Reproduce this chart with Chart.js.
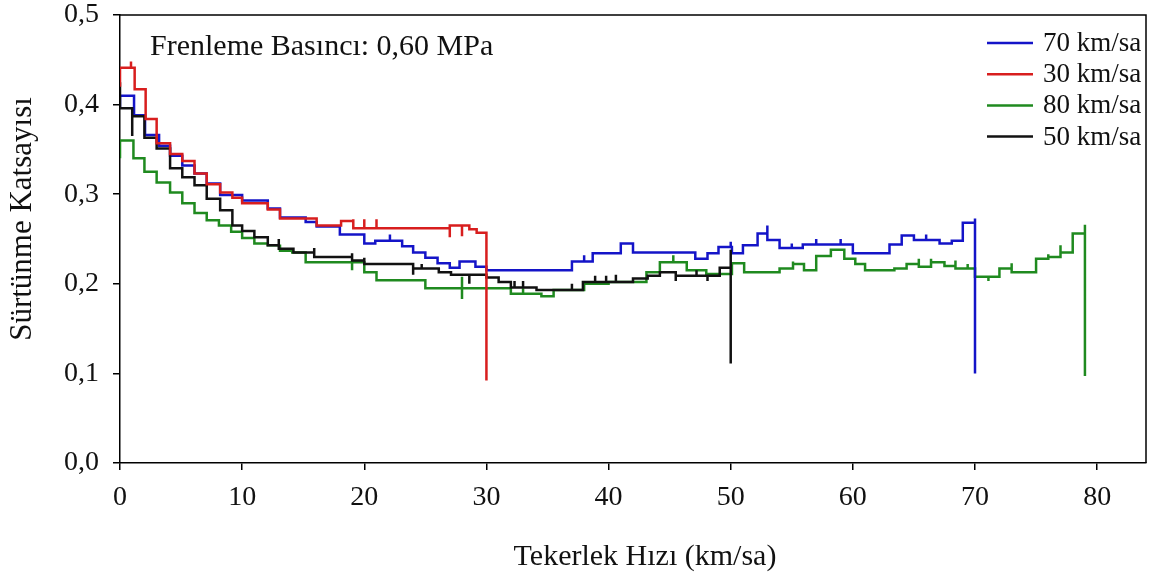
<!DOCTYPE html>
<html>
<head>
<meta charset="utf-8">
<script src="https://cdn.jsdelivr.net/npm/chart.js@4.4.1/dist/chart.umd.min.js"></script>
<style>
  html, body { margin: 0; padding: 0; background: #fff; }
  #wrap { width: 1166px; height: 580px; }
</style>
</head>
<body>
<div id="wrap"><canvas id="c" width="1166" height="580"></canvas></div>
<script>
// Friction coefficient vs. wheel speed, braking pressure 0.60 MPa.
// Each run is a stepped trace; repeated x values mark short vertical ticks.

const seriesLabels = ['70 km/sa', '30 km/sa', '80 km/sa', '50 km/sa'];
const seriesColors = ['#1414c8', '#d81e1e', '#1f8a1f', '#111111'];

const speed70 = [0, 0, 1.15, 2.05, 3.2, 4.1, 5.1, 6.1, 7.1, 8.2, 10, 12.1, 13.1, 15.2, 16.1, 18, 20, 20.9, 22.1, 22.1, 23.1, 24, 25, 26, 27, 27.8, 29.1, 30, 37, 38, 38, 38.7, 41, 42, 47.1, 48.1, 49, 50, 50, 50.1, 51, 52.2, 53, 53, 54, 55, 55, 55.9, 57, 57, 59, 59, 60, 63, 64, 65, 66, 66, 67.1, 68.1, 69, 70, 70];
const mu70    = [0.395, 0.41, 0.388, 0.366, 0.354, 0.343, 0.332, 0.323, 0.312, 0.299, 0.293, 0.284, 0.274, 0.269, 0.264, 0.255, 0.245, 0.248, 0.255, 0.248, 0.242, 0.235, 0.229, 0.223, 0.218, 0.225, 0.219, 0.215, 0.225, 0.232, 0.225, 0.234, 0.245, 0.235, 0.228, 0.234, 0.241, 0.247, 0.241, 0.234, 0.243, 0.256, 0.265, 0.249, 0.24, 0.245, 0.24, 0.244, 0.25, 0.244, 0.25, 0.244, 0.234, 0.244, 0.254, 0.249, 0.255, 0.249, 0.245, 0.248, 0.268, 0.273, 0.10];

const speed30 = [0, 0, 0.9, 0.9, 1.2, 2.1, 3.0, 4.1, 5.1, 6.1, 7.1, 8.2, 9.2, 10, 12.1, 13.1, 16.1, 18.1, 19.1, 19.1, 20, 20, 21, 21, 27, 27, 28, 28, 28.6, 29.2, 30];
const mu30    = [0.42, 0.441, 0.448, 0.441, 0.417, 0.384, 0.357, 0.345, 0.337, 0.323, 0.311, 0.302, 0.296, 0.29, 0.283, 0.273, 0.265, 0.27, 0.272, 0.262, 0.272, 0.262, 0.272, 0.262, 0.252, 0.265, 0.253, 0.265, 0.261, 0.257, 0.092];

const speed80 = [0, 0, 1.1, 2.0, 3.0, 4.1, 5.1, 6.1, 7.1, 8.1, 9.1, 10, 11, 12.1, 13.1, 13.1, 14.1, 15.2, 19, 19, 20, 21, 25, 28, 28, 28, 32, 33, 33, 34.5, 35.5, 38, 40, 43.1, 44.2, 45.3, 45.3, 46.4, 48, 50.1, 51.1, 54, 55.1, 55.1, 56, 57, 58.2, 59.3, 60.2, 61, 63.4, 64.4, 65.4, 65.4, 66.4, 66.4, 67.5, 68.4, 68.4, 69.4, 69.4, 70, 71.1, 71.1, 72, 73, 73, 75, 76, 76, 77, 77, 78, 79, 79];
const mu80    = [0.34, 0.36, 0.34, 0.325, 0.313, 0.302, 0.29, 0.279, 0.271, 0.265, 0.258, 0.251, 0.245, 0.243, 0.244, 0.237, 0.235, 0.224, 0.215, 0.224, 0.213, 0.204, 0.195, 0.183, 0.208, 0.195, 0.189, 0.195, 0.189, 0.186, 0.193, 0.2, 0.202, 0.213, 0.224, 0.232, 0.224, 0.215, 0.211, 0.223, 0.213, 0.217, 0.225, 0.222, 0.215, 0.231, 0.238, 0.228, 0.222, 0.215, 0.217, 0.222, 0.228, 0.219, 0.228, 0.224, 0.22, 0.226, 0.217, 0.222, 0.217, 0.208, 0.203, 0.208, 0.217, 0.223, 0.213, 0.228, 0.233, 0.23, 0.243, 0.235, 0.256, 0.266, 0.097];

const speed50 = [0, 0, 1, 1, 2, 3, 4.1, 5.1, 6.1, 7.1, 8.2, 9.2, 10, 11, 12.1, 13, 13, 14.2, 15.9, 15.9, 19, 19, 20, 20, 24, 24, 24.7, 24.7, 26.1, 27.1, 28.6, 28.6, 30, 31, 32, 32.3, 32.3, 33, 33, 34.1, 37, 37, 37.9, 38.9, 38.9, 39.8, 39.8, 40.6, 40.6, 42, 43.2, 44.2, 45.5, 45.5, 47.2, 47.2, 48.1, 48.1, 49.1, 50, 50];
const mu50    = [0.425, 0.396, 0.365, 0.387, 0.363, 0.351, 0.329, 0.319, 0.31, 0.295, 0.282, 0.265, 0.259, 0.252, 0.243, 0.25, 0.239, 0.235, 0.24, 0.23, 0.234, 0.226, 0.229, 0.222, 0.21, 0.217, 0.222, 0.217, 0.213, 0.21, 0.2, 0.21, 0.207, 0.202, 0.196, 0.203, 0.196, 0.203, 0.196, 0.193, 0.2, 0.193, 0.202, 0.209, 0.202, 0.209, 0.202, 0.21, 0.202, 0.206, 0.209, 0.213, 0.203, 0.209, 0.215, 0.209, 0.203, 0.209, 0.218, 0.238, 0.111];

const xTicks = [0, 10, 20, 30, 40, 50, 60, 70, 80];
const yTicks = [0, 0.1, 0.2, 0.3, 0.4, 0.5];
const noteText = 'Frenleme Basıncı: 0,60 MPa';
const xTitle = 'Tekerlek Hızı (km/sa)';
const yTitle = 'Sürtünme Katsayısı';

const FONT = '"Liberation Serif", "Times New Roman", serif';

function pts(xs, ys) { return xs.map((x, i) => ({ x: x, y: ys[i] })); }

// drawing order: later entries in this list are painted first (underneath)
const runs = [
  { label: seriesLabels[1], color: seriesColors[1], data: pts(speed30, mu30) },
  { label: seriesLabels[3], color: seriesColors[3], data: pts(speed50, mu50) },
  { label: seriesLabels[0], color: seriesColors[0], data: pts(speed70, mu70) },
  { label: seriesLabels[2], color: seriesColors[2], data: pts(speed80, mu80) }
];

const frameBox = {
  id: 'frameBox',
  beforeDatasetsDraw(chart) {
    const a = chart.chartArea, ctx = chart.ctx;
    ctx.save();
    ctx.strokeStyle = '#000';
    ctx.lineWidth = 1.5;
    ctx.beginPath();
    ctx.moveTo(a.left, a.top); ctx.lineTo(a.right, a.top); ctx.lineTo(a.right, a.bottom);
    ctx.stroke();
    ctx.restore();
  }
};

// key, pressure note and axis titles
const keyAndNote = {
  id: 'keyAndNote',
  afterDraw(chart) {
    const ctx = chart.ctx, a = chart.chartArea;
    ctx.save();
    ctx.fillStyle = '#111';
    ctx.textBaseline = 'middle';
    ctx.textAlign = 'left';
    ctx.font = '30px ' + FONT;
    ctx.fillText(noteText, a.left + 30, a.top + 32);

    ctx.font = '27px ' + FONT;
    const x0 = a.right - 159, rowH = 31.2, y0 = a.top + 28;
    seriesLabels.forEach((lab, i) => {
      const y = y0 + i * rowH;
      ctx.strokeStyle = seriesColors[i];
      ctx.lineWidth = 2.5;
      ctx.beginPath(); ctx.moveTo(x0, y); ctx.lineTo(x0 + 46, y); ctx.stroke();
      ctx.fillText(lab, x0 + 56, y + 1);
    });

    ctx.textAlign = 'center';
    ctx.font = '30px ' + FONT;
    ctx.fillText(xTitle, 645, 557);
    ctx.translate(23, 219);
    ctx.rotate(-Math.PI / 2);
    ctx.font = '31px ' + FONT;
    ctx.fillText(yTitle, 0, 0);
    ctx.restore();
  }
};

new Chart(document.getElementById('c'), {
  type: 'line',
  data: {
    datasets: runs.map(r => ({
      label: r.label,
      data: r.data,
      borderColor: r.color,
      backgroundColor: r.color,
      borderWidth: 2.5,
      pointRadius: 0,
      stepped: true,
      fill: false
    }))
  },
  options: {
    responsive: false,
    animation: false,
    layout: { padding: { top: 15, right: 20, left: 0, bottom: 0 } },
    plugins: { legend: { display: false }, tooltip: { enabled: false } },
    scales: {
      x: {
        type: 'linear',
        min: 0, max: 84,
        afterFit(s) { s.height = 117; s.paddingLeft = 0; s.paddingRight = 0; },
        afterBuildTicks(s) { s.ticks = xTicks.map(v => ({ value: v })); },
        ticks: { font: { family: FONT, size: 28 }, color: '#111', padding: 11, maxRotation: 0,
                 callback: v => String(v) },
        grid: { display: true, drawOnChartArea: false, drawTicks: true, tickLength: 7, color: '#000', lineWidth: 1.5 },
        border: { display: true, color: '#000', width: 1.5 }
      },
      y: {
        type: 'linear',
        min: 0, max: 0.5,
        afterFit(s) { s.width = 120; s.paddingTop = 0; s.paddingBottom = 0; },
        afterBuildTicks(s) { s.ticks = yTicks.map(v => ({ value: v })); },
        ticks: { font: { family: FONT, size: 28 }, color: '#111', padding: 14,
                 callback: v => v.toFixed(1).replace('.', ',') },
        grid: { display: true, drawOnChartArea: false, drawTicks: true, tickLength: 7, color: '#000', lineWidth: 1.5 },
        border: { display: true, color: '#000', width: 1.5 }
      }
    }
  },
  plugins: [frameBox, keyAndNote]
});
</script>
</body>
</html>
